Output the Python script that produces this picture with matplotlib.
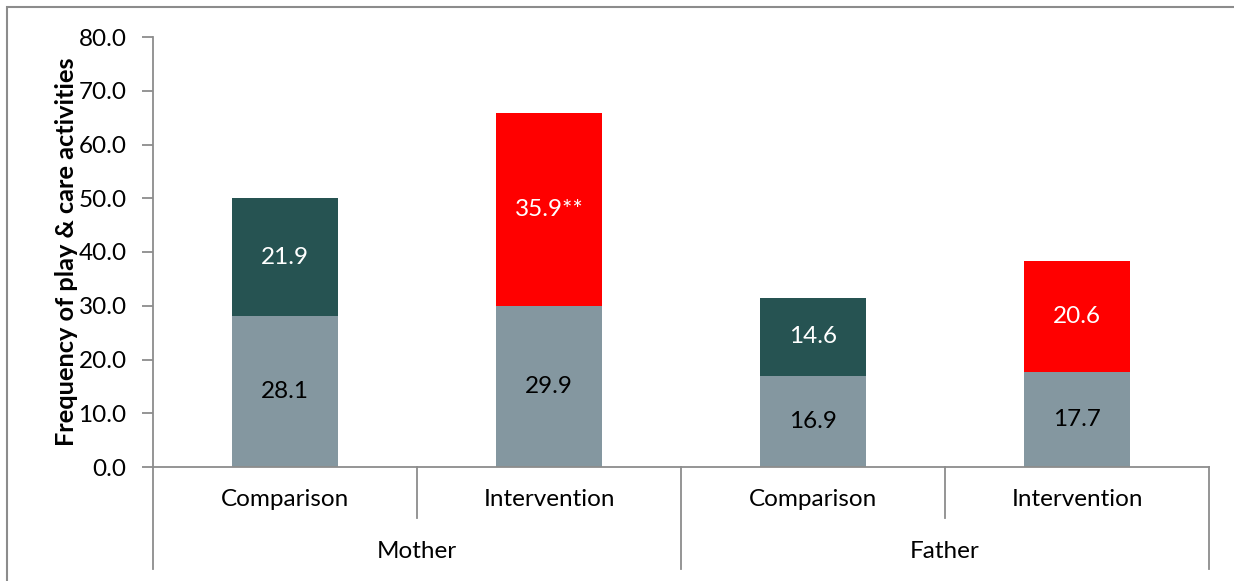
import matplotlib.pyplot as plt
import matplotlib.transforms as mtransforms
from matplotlib.patches import Rectangle
import numpy as np

plt.rcParams['font.family'] = ['Lato', 'DejaVu Sans']

# data
groups = ['Mother', 'Father']
arms = ['Comparison', 'Intervention']
base = [28.1, 29.9, 16.9, 17.7]
extra = [21.9, 35.9, 14.6, 20.6]
extra_labels = ['21.9', '35.9**', '14.6', '20.6']

grey = '#8497A0'
dark = '#265352'
red = '#FF0000'
line_col = '#8C8C8C'
top_colors = [dark, red, dark, red]
fs = 17.5

fig = plt.figure(figsize=(12.34, 5.81), dpi=100)
ax = fig.add_axes([153 / 1234, 1 - 467 / 581, 1056 / 1234, 430 / 581])

# outer chart border
fig.patches.append(Rectangle((7 / 1234, -0.1), 1.1, 1 - 7 / 581 + 0.1,
                             transform=fig.transFigure, fill=False,
                             edgecolor=line_col, linewidth=1.5))

n = len(base)
x = np.arange(n)
w = 0.40
ax.bar(x, base, width=w, color=grey, zorder=2)
ax.bar(x, extra, width=w, bottom=base, color=top_colors, zorder=2)

for i in range(n):
    ax.text(x[i], base[i] / 2, '%.1f' % base[i], ha='center', va='center',
            fontsize=fs, color='black')
    ax.text(x[i], base[i] + extra[i] / 2, extra_labels[i], ha='center',
            va='center', fontsize=fs, color='white')

ax.set_xlim(-0.5, n - 0.5)
ax.set_ylim(0, 80)
ax.set_yticks(np.arange(0, 81, 10))
ax.set_yticklabels(['%.1f' % v for v in np.arange(0, 81, 10)])
ax.tick_params(axis='y', labelsize=fs, length=8, width=1.3, color=line_col, pad=11)
ax.set_ylabel('Frequency of play & care activities', fontsize=18.3,
              fontweight='bold', labelpad=0.5)

for s in ['top', 'right']:
    ax.spines[s].set_visible(False)
for s in ['left', 'bottom']:
    ax.spines[s].set_color(line_col)
    ax.spines[s].set_linewidth(1.3)

# two level category axis
ax.set_xticks([])
trans = mtransforms.blended_transform_factory(ax.transData, ax.transAxes)
for i in range(n):
    ax.text(x[i], -33 / 430, arms[i % 2], transform=trans, ha='center',
            va='center', fontsize=fs)
for g, name in enumerate(groups):
    ax.text(2 * g + 0.5, -84 / 430, name, transform=trans, ha='center',
            va='center', fontsize=fs)

for b in np.arange(-0.5, n, 1.0):
    if b in (-0.5, 1.5, n - 0.5):
        y1 = -102 / 430
    else:
        y1 = -51 / 430
    ax.plot([b, b], [0, y1], transform=trans, color=line_col, lw=1.3,
            clip_on=False)

plt.savefig('out.png', dpi=100)
